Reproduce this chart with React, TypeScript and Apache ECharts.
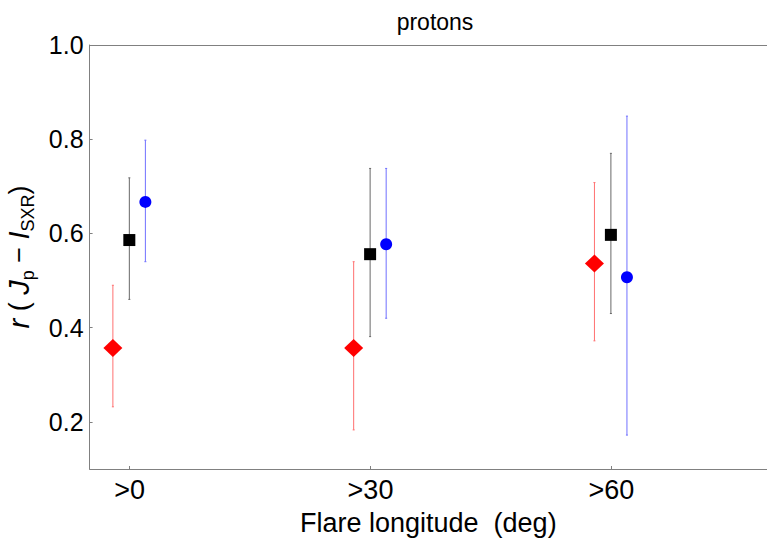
import React, { useEffect, useRef } from "react";
import * as echarts from "echarts";

const longitudes = [0, 30, 60];
const xTickLabels = [">0", ">30", ">60"];
const yTicks = [0.2, 0.4, 0.6, 0.8, 1.0];

const redR = [0.357, 0.357, 0.536];
const redLo = [0.232, 0.183, 0.372];
const redHi = [0.49, 0.54, 0.708];

const blackR = [0.586, 0.556, 0.597];
const blackLo = [0.46, 0.381, 0.43];
const blackHi = [0.718, 0.738, 0.77];

const blueR = [0.667, 0.577, 0.507];
const blueLo = [0.54, 0.42, 0.172];
const blueHi = [0.798, 0.738, 0.849];

const OFF_RED = -2.1;
const OFF_BLACK = -0.05;
const OFF_BLUE = 1.95;

const FONT = "Liberation Sans, Arial, sans-serif";

function errSeries(lo: number[], hi: number[], off: number, color: string) {
  return {
    type: "custom",
    data: longitudes.map((x, i) => [x + off, lo[i], hi[i]]),
    renderItem: (params: any, api: any) => {
      const p1 = api.coord([api.value(0), api.value(1)]);
      const p2 = api.coord([api.value(0), api.value(2)]);
      return {
        type: "group",
        children: [
          {
            type: "line",
            shape: { x1: p1[0], y1: p1[1], x2: p2[0], y2: p2[1] },
            style: { stroke: color, lineWidth: 1 },
          },
          {
            type: "line",
            shape: { x1: p1[0] - 1, y1: p1[1], x2: p1[0] + 1, y2: p1[1] },
            style: { stroke: color, lineWidth: 1 },
          },
          {
            type: "line",
            shape: { x1: p2[0] - 1, y1: p2[1], x2: p2[0] + 1, y2: p2[1] },
            style: { stroke: color, lineWidth: 1 },
          },
        ],
      };
    },
    encode: { x: 0, y: [1, 2] },
    silent: true,
    z: 1,
  };
}

function pointSeries(r: number[], off: number, symbol: string, size: number | number[], color: string) {
  return {
    type: "scatter",
    data: longitudes.map((x, i) => [x + off, r[i]]),
    symbol,
    symbolSize: size,
    itemStyle: { color, opacity: 1 },
    z: 3,
  };
}

export default function App() {
  const ref = useRef<HTMLDivElement>(null);
  useEffect(() => {
    if (!ref.current) return;
    const chart = echarts.init(ref.current, null, { renderer: "svg" });
    const axisLineStyle = { color: "#808080", width: 1 };
    chart.setOption({
      animation: false,
      backgroundColor: "#ffffff",
      title: {
        text: "protons",
        left: 430,
        top: 5,
        textAlign: "center",
        textStyle: { fontFamily: FONT, fontSize: 23, fontWeight: "normal", color: "#000" },
      },
      grid: { left: 89.6, right: 0, top: 45, bottom: 74, containLabel: false, outerBoundsMode: "none" },
      xAxis: [
        {
          type: "value",
          min: -5,
          max: 79.4,
          name: "Flare longitude  (deg)",
          nameLocation: "middle",
          nameGap: 40,
          nameTextStyle: { fontFamily: FONT, fontSize: 27, color: "#000" },
          axisLine: { show: true, onZero: false, lineStyle: axisLineStyle },
          axisTick: { show: true, inside: true, length: 3, customValues: longitudes, lineStyle: axisLineStyle },
          axisLabel: {
            customValues: longitudes,
            formatter: (v: number) => xTickLabels[longitudes.indexOf(v)] ?? "",
            fontFamily: FONT,
            fontSize: 27,
            color: "#000",
            margin: 7,
          },
          splitLine: { show: false },
        },
        {
          type: "value",
          position: "top",
          min: -5,
          max: 79.4,
          axisLine: { show: true, onZero: false, lineStyle: axisLineStyle },
          axisTick: { show: false },
          axisLabel: { show: false },
          splitLine: { show: false },
        },
      ],
      yAxis: {
        type: "value",
        min: 0.1,
        max: 1.0,
        name: "{i|r} {n|( }{i|J}{s|p}{n| − }{i|I}{s|SXR}{n|)}",
        nameLocation: "middle",
        nameGap: 53,
        nameTextStyle: {
          fontFamily: FONT,
          fontSize: 27,
          color: "#000",
          rich: {
            i: { fontFamily: FONT, fontSize: 29, fontStyle: "italic", color: "#000", lineHeight: 35, verticalAlign: "middle" },
            n: { fontFamily: FONT, fontSize: 27, color: "#000", lineHeight: 35, verticalAlign: "middle" },
            s: { fontFamily: FONT, fontSize: 18, color: "#000", lineHeight: 35, verticalAlign: "bottom", padding: [8, 0, 0, 0] },
          },
        },
        axisLine: { show: true, onZero: false, lineStyle: axisLineStyle },
        axisTick: { show: true, inside: true, length: 3, customValues: yTicks, lineStyle: axisLineStyle },
        axisLabel: {
          customValues: yTicks,
          formatter: (v: number) => v.toFixed(1),
          fontFamily: FONT,
          fontSize: 25,
          color: "#000",
          margin: 6,
        },
        splitLine: { show: false },
      },
      series: [
        errSeries(redLo, redHi, OFF_RED, "#ff7070"),
        errSeries(blackLo, blackHi, OFF_BLACK, "#686868"),
        errSeries(blueLo, blueHi, OFF_BLUE, "#7070ff"),
        pointSeries(redR, OFF_RED, "diamond", [19, 18], "#ff0000"),
        pointSeries(blackR, OFF_BLACK, "rect", 12, "#000000"),
        pointSeries(blueR, OFF_BLUE, "circle", 12, "#0000ff"),
      ],
    });
    return () => chart.dispose();
  }, []);
  return <div ref={ref} style={{ position: "absolute", left: 0, top: 0, width: 767, height: 543 }} />;
}
